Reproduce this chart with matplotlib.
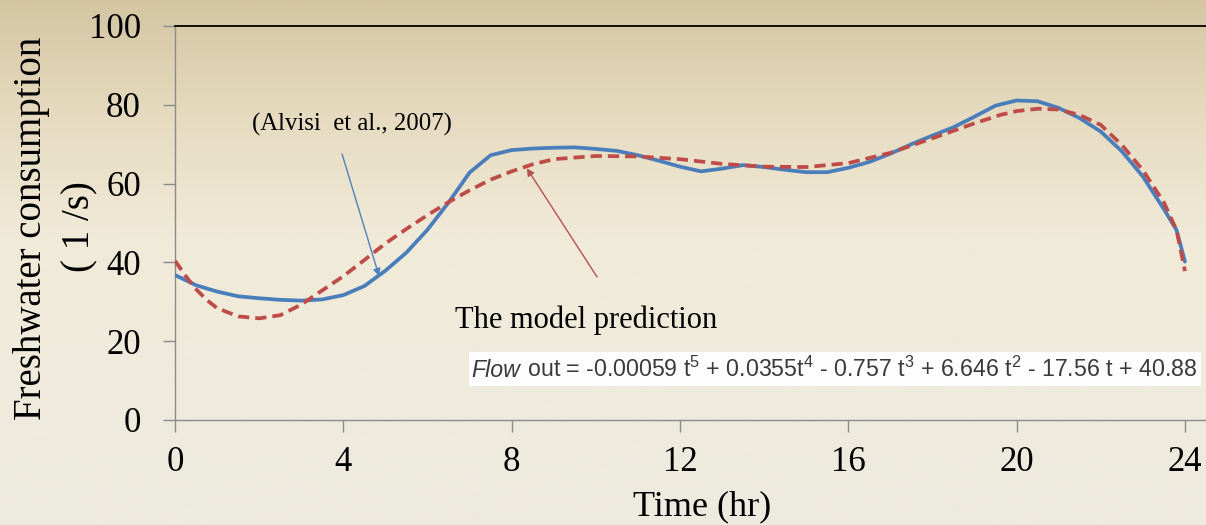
import numpy as np
import matplotlib
matplotlib.use("Agg")
import matplotlib.pyplot as plt
from matplotlib import font_manager as fm
from matplotlib.patches import Rectangle

# ---------------- data ----------------
time_alvisi = [0, 0.5, 1, 1.5, 2, 2.5, 3, 3.5, 4, 4.5, 5, 5.5, 6, 6.5, 7, 7.5,
               8, 8.5, 9, 9.5, 10, 10.5, 11, 11.5, 12, 12.5, 13, 13.5, 14, 14.5,
               15, 15.5, 16, 16.5, 17, 17.5, 18, 18.5, 19, 19.5, 20, 20.5, 21,
               21.5, 22, 22.5, 23, 23.5, 23.8, 24]
flow_alvisi = [36.8, 34.2, 32.6, 31.4, 30.9, 30.5, 30.3, 30.6, 31.7, 34.0, 37.9,
               42.5, 48.3, 55.2, 62.8, 67.2, 68.5, 68.9, 69.1, 69.2, 68.8, 68.3,
               67.2, 65.8, 64.3, 63.1, 63.8, 64.7, 64.2, 63.5, 62.9, 62.9, 64.0,
               65.5, 67.6, 70.0, 72.2, 74.3, 77.0, 79.8, 81.1, 80.9, 79.2, 76.6,
               73.2, 68.2, 61.8, 53.5, 48.2, 40.2]

time_model = [0, 0.25, 0.5, 0.75, 1, 1.5, 2, 2.5, 3, 3.5, 4, 4.5, 5, 5.5, 6, 6.5,
              7, 7.5, 8, 8.5, 9, 10, 11, 12, 13, 14, 15, 16, 17, 18, 19, 19.6,
              20, 20.5, 21, 21.5, 22, 22.5, 23, 23.5, 23.8, 24]
flow_model = [40.4, 36.6, 33.2, 30.5, 28.4, 26.3, 25.8, 26.6, 29.3, 32.9, 36.5,
              40.6, 44.8, 48.5, 52.0, 55.3, 58.3, 61.0, 63.1, 64.9, 66.2, 67.0,
              66.9, 66.2, 65.0, 64.3, 64.2, 65.2, 67.8, 71.5, 75.3, 77.4, 78.4,
              79.0, 78.8, 77.4, 74.9, 69.8, 63.4, 55.2, 48.2, 37.8]

x_ticks = [0, 4, 8, 12, 16, 20, 24]
y_ticks = [0, 20, 40, 60, 80, 100]

x_label = "Time (hr)"
y_label_1 = "Freshwater consumption"
y_label_2 = "( 1 /s)"
label_alvisi = "(Alvisi  et al., 2007)"
label_model = "The model prediction"
eq_head = "Flow"
eq_tail = (" out = -0.00059 t$^5$ + 0.0355t$^4$ - 0.757 t$^3$ + 6.646 t$^2$"
           " - 17.56 t + 40.88")

# ---------------- fonts ----------------
SERIF = ["Liberation Serif", "DejaVu Serif"]
names = {f.name for f in fm.fontManager.ttflist}
EQ_FONT = "Liberation Sans Narrow" if "Liberation Sans Narrow" in names else "Liberation Sans"
plt.rcParams["mathtext.fontset"] = "custom"
plt.rcParams["mathtext.rm"] = EQ_FONT
plt.rcParams["mathtext.it"] = EQ_FONT + ":italic"
plt.rcParams["mathtext.bf"] = EQ_FONT + ":bold"

W, H = 1206, 525
fig = plt.figure(figsize=(W / 100, H / 100), dpi=100)

# ---------------- gradient background ----------------
bg = fig.add_axes([0, 0, 1, 1], zorder=-10)
stops = np.array([0.0, 0.22, 0.45, 1.0])
cols = np.array([[212, 197, 162], [230, 219, 192], [241, 234, 216], [237, 234, 224]]) / 255
yy = np.linspace(0, 1, 400)
grad = np.stack([np.interp(yy, stops, cols[:, k]) for k in range(3)], axis=-1)
bg.imshow(grad[:, None, :], aspect="auto", extent=[0, 1, 1, 0])
bg.set_xlim(0, 1); bg.set_ylim(1, 0)
bg.axis("off")

# ---------------- main axes ----------------
left, right_px, top_px, bottom_px = 175, 1206, 26, 420
ax = fig.add_axes([left / W, 1 - bottom_px / H, (right_px - left) / W,
                   (bottom_px - top_px) / H])
ax.patch.set_alpha(0)
ax.set_xlim(0, 24.5)
ax.set_ylim(0, 100)

ax.plot(time_alvisi, flow_alvisi, color="#4a7ebb", lw=2.7, solid_capstyle="round",
        solid_joinstyle="round", zorder=3)
ax.plot(time_model, flow_model, color="#be4b48", lw=2.7, dashes=(3.0, 1.6),
        dash_joinstyle="round", zorder=4)

for s in ("left", "bottom"):
    ax.spines[s].set_color("#8a8a8a")
    ax.spines[s].set_linewidth(1.0)
ax.spines["top"].set_color("black")
ax.spines["top"].set_linewidth(1.3)
ax.spines["right"].set_visible(False)

ax.set_xticks(x_ticks)
ax.set_yticks(y_ticks)
ax.set_xticklabels([str(v) for v in x_ticks])
ax.set_yticklabels([str(v) for v in y_ticks])
ax.tick_params(axis="both", direction="out", length=8.6, width=1.0,
               color="#8a8a8a", labelsize=25, labelcolor="black")
ax.tick_params(axis="x", pad=10)
ax.tick_params(axis="y", pad=16)
for lab in ax.get_xticklabels() + ax.get_yticklabels():
    lab.set_family(SERIF)

# axis titles
fig.text(702 / W, 1 - 515 / H, x_label, ha="center", va="baseline",
         family=SERIF, fontsize=26)
fig.text(32 / W, 1 - 228 / H, y_label_1, ha="center", va="center",
         rotation=90, family=SERIF, fontsize=28)
fig.text(80 / W, 1 - 227 / H, y_label_2, ha="center", va="center",
         rotation=90, family=SERIF, fontsize=28)

# annotations
ax.annotate("", xy=(4.85, 36.5), xytext=(3.97, 67.5),
            arrowprops=dict(arrowstyle="-|>", color="#4f81bd", lw=1.0,
                            mutation_scale=11, shrinkA=0, shrinkB=0), zorder=6)
ax.text(1.83, 74.9, label_alvisi, ha="left", va="center", family=SERIF,
        fontsize=17.8, color="black")

ax.annotate("", xy=(8.36, 63.9), xytext=(10.03, 36.3),
            arrowprops=dict(arrowstyle="-|>", color="#b5524f", lw=1.0,
                            mutation_scale=11, shrinkA=0, shrinkB=0), zorder=6)
ax.text(6.65, 25.4, label_model, ha="left", va="center", family=SERIF,
        fontsize=22, color="black")

# equation with white box
eq_x, eq_y = 7.05, 11.0
size0 = 15.0
t1 = ax.text(eq_x, eq_y, eq_head, ha="left", va="baseline", family=EQ_FONT,
             style="italic", fontsize=size0, color="#3a3a3a", zorder=8)
renderer = fig.canvas.get_renderer()
b1 = t1.get_window_extent(renderer)
x_after = ax.transData.inverted().transform((b1.x1, b1.y0))[0]
t2 = ax.text(x_after, eq_y, eq_tail, ha="left", va="baseline", family=EQ_FONT,
             fontsize=size0, color="#3a3a3a", zorder=8)
b2 = t2.get_window_extent(renderer)
target_w = 1199 - 472
scale = target_w / (b2.x1 - b1.x0)
size = size0 * scale
t1.set_fontsize(size)
t2.set_fontsize(size)
b1 = t1.get_window_extent(renderer)
x_after = ax.transData.inverted().transform((b1.x1, b1.y0))[0]
t2.set_x(x_after)
b2 = t2.get_window_extent(renderer)
x0 = min(b1.x0, b2.x0) - 3
x1 = max(b1.x1, b2.x1) + 4
y0 = min(b1.y0, b2.y0) - 4
y1 = max(b1.y1, b2.y1) + 4
box = Rectangle((x0, y0), x1 - x0, y1 - y0, transform=None,
                facecolor="white", edgecolor="none", alpha=0.95, zorder=7)
fig.add_artist(box)
for t in (t1, t2):
    t.remove()
    fig.add_artist(t)
    t.set_transform(ax.transData)
    t.set_zorder(8)

fig.savefig("out.png", dpi=100)
